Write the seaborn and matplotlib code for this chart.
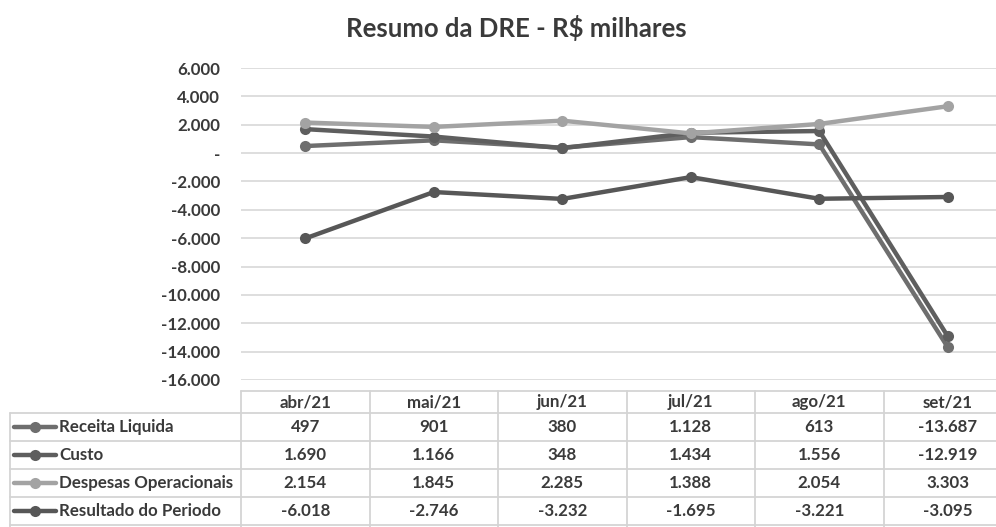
import pandas as pd
import seaborn as sns
import matplotlib.pyplot as plt
from matplotlib.transforms import Affine2D, blended_transform_factory
from matplotlib.lines import Line2D

# dados do grafico
meses = ['abr/21', 'mai/21', 'jun/21', 'jul/21', 'ago/21', 'set/21']
receita = [497, 901, 380, 1128, 613, -13687]
custo = [1690, 1166, 348, 1434, 1556, -12919]
despesas = [2154, 1845, 2285, 1388, 2054, 3303]
resultado = [-6018, -2746, -3232, -1695, -3221, -3095]

series = {
    'Receita Liquida': receita,
    'Custo': custo,
    'Despesas Operacionais': despesas,
    'Resultado do Periodo': resultado,
}
cores = {
    'Receita Liquida': '#6e6e6e',
    'Custo': '#5e5e5e',
    'Despesas Operacionais': '#a3a3a3',
    'Resultado do Periodo': '#575757',
}

linhas = []
for nome, vals in series.items():
    for i, v in enumerate(vals):
        linhas.append({'serie': nome, 'x': i, 'valor': v})
df = pd.DataFrame(linhas)

sns.set_theme(style='white')
plt.rcParams['font.family'] = ['Lato', 'DejaVu Sans']
plt.rcParams['font.weight'] = 'bold'
txt = '#3a3a3a'
grade = '#d4d4d4'
fs = 12.2

W, H = 996, 527
fig = plt.figure(figsize=(W / 100, H / 100), dpi=100)
ax = fig.add_axes([241 / W, 1 - 380 / H, 771 / W, 312 / H])

sns.lineplot(data=df, x='x', y='valor', hue='serie', palette=cores,
             marker='o', markersize=8, markeredgewidth=0, linewidth=3.2,
             legend=False, ax=ax)

ax.set_xlim(-0.5, len(meses) - 0.5)
ax.set_ylim(-16000, 6000)
ax.set_yticks(range(-16000, 6001, 2000))
ax.set_yticklabels(['-' if t == 0 else f'{t:,}'.replace(',', '.')
                    for t in range(-16000, 6001, 2000)],
                   fontsize=fs, fontweight='bold', color=txt)
ax.set_xticks([])
ax.set_xlabel('')
ax.set_ylabel('')
ax.tick_params(axis='y', length=0, pad=15)
ax.yaxis.grid(True, color=grade, linewidth=1.1)
ax.set_axisbelow(True)
for s in ax.spines.values():
    s.set_visible(False)

fig.text(516 / W, 1 - 28 / H, 'Resumo da DRE - R$ milhares', ha='center',
         va='center', fontsize=18.5, fontweight='bold', color=txt)

# tabela de dados abaixo do grafico
px = Affine2D().scale(1 / W, -1 / H).translate(0, 1) + fig.transFigure
col = blended_transform_factory(ax.transData, px)

topo = 391
linhas_y = [413, 441, 469, 497, 525]
centros = [427, 455, 483, 511]

fig.add_artist(Line2D([-0.5, 6], [topo, topo], transform=col, color=grade, lw=1.3))
for y in linhas_y:
    fig.add_artist(Line2D([10, W + 20], [y, y], transform=px, color=grade, lw=1.3))
fig.add_artist(Line2D([10, 10], [413, 530], transform=px, color=grade, lw=1.3))
for i in range(len(meses) + 1):
    fig.add_artist(Line2D([i - 0.5, i - 0.5], [topo, 530], transform=col,
                          color=grade, lw=1.3))

for i, m in enumerate(meses):
    fig.text(i, 402, m, transform=col, ha='center', va='center',
             fontsize=fs, fontweight='bold', color=txt)

for (nome, vals), yc in zip(series.items(), centros):
    fig.add_artist(Line2D([14, 56], [yc, yc], transform=px, color=cores[nome],
                          lw=3.2, solid_capstyle='round'))
    fig.add_artist(Line2D([35], [yc], transform=px, color=cores[nome],
                          marker='o', markersize=8, markeredgewidth=0))
    fig.text(59, yc, nome, transform=px, ha='left', va='center',
             fontsize=fs, fontweight='bold', color=txt)
    for i, v in enumerate(vals):
        fig.text(i, yc, f'{v:,}'.replace(',', '.'), transform=col,
                 ha='center', va='center', fontsize=fs, fontweight='bold',
                 color=txt)

plt.savefig('out.png', dpi=100)
